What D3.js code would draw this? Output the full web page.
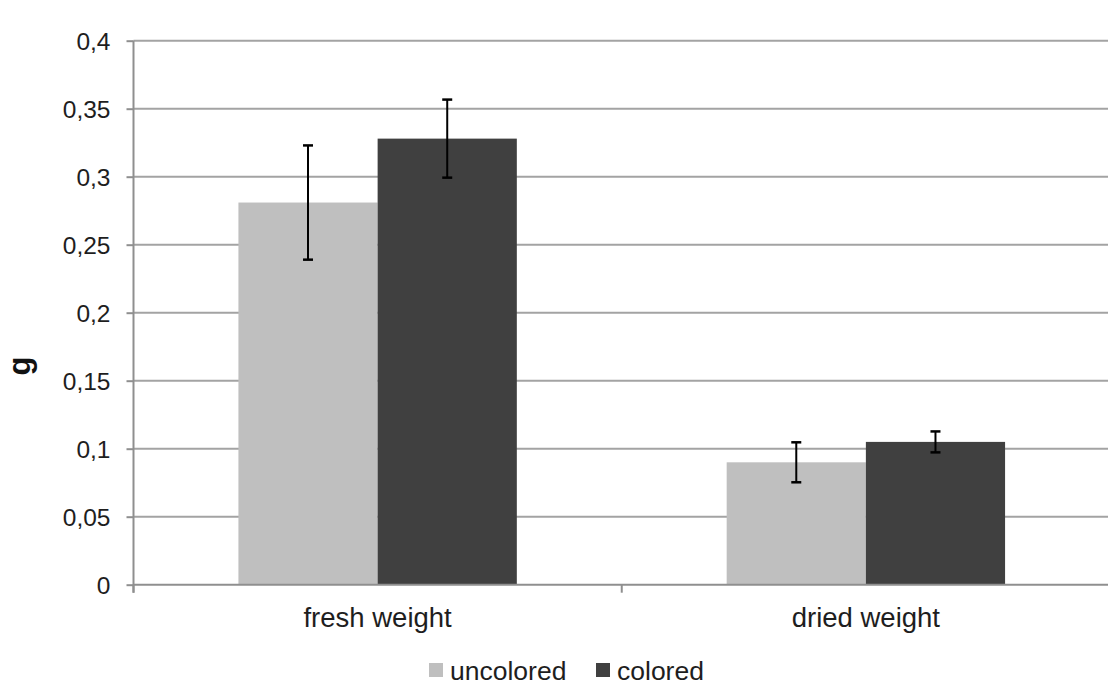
<!DOCTYPE html>
<html>
<head>
<meta charset="utf-8">
<script src="https://cdn.jsdelivr.net/npm/d3@7"></script>
<style>
  html, body { margin: 0; padding: 0; background: #fff; }
  svg { display: block; font-family: "Liberation Sans", Arial, sans-serif; }
</style>
</head>
<body>
<svg id="chart" width="1108" height="687"></svg>
<script>
const categories = ["fresh weight", "dried weight"];
const seriesNames = ["uncolored", "colored"];
const uncoloredValues = [0.281, 0.090];
const coloredValues = [0.328, 0.105];
const uncoloredErrors = [0.042, 0.0147];
const coloredErrors = [0.0287, 0.0077];
const yTicks = [0, 0.05, 0.1, 0.15, 0.2, 0.25, 0.3, 0.35, 0.4];
const yTickLabels = ["0", "0,05", "0,1", "0,15", "0,2", "0,25", "0,3", "0,35", "0,4"];
const colors = ["#bfbfbf", "#404040"];

const svg = d3.select("#chart");
const mLeft = 133.5, mRight = 1110, mTop = 40.7, mBottom = 584.7;

const x = d3.scaleBand().domain(categories).range([mLeft, mRight]).paddingInner(0).paddingOuter(0);
const y = d3.scaleLinear().domain([0, 0.4]).range([mBottom, mTop]);
const groupPad = 0.2149;
const xs = d3.scaleBand().domain(seriesNames)
  .range([x.bandwidth() * groupPad, x.bandwidth() * (1 - groupPad)]);

// gridlines
svg.append("g").selectAll("line").data(yTicks.filter(d => d > 0)).join("line")
  .attr("x1", mLeft).attr("x2", 1108)
  .attr("y1", d => y(d)).attr("y2", d => y(d))
  .attr("stroke", "#a3a3a3").attr("stroke-width", 2);

// bars
const series = [
  { name: seriesNames[0], values: uncoloredValues, errors: uncoloredErrors, color: colors[0] },
  { name: seriesNames[1], values: coloredValues, errors: coloredErrors, color: colors[1] }
];
series.forEach(s => {
  const g = svg.append("g");
  g.selectAll("rect").data(categories).join("rect")
    .attr("x", c => x(c) + xs(s.name))
    .attr("width", xs.bandwidth())
    .attr("y", (c, i) => y(s.values[i]))
    .attr("height", (c, i) => mBottom - y(s.values[i]))
    .attr("fill", s.color);
});

// x axis baseline
const xAxis = d3.axisBottom(x).tickSize(0).tickFormat("");
const xg = svg.append("g").attr("transform", `translate(0,${mBottom})`).call(xAxis);
xg.select(".domain").attr("stroke", "#8f8f8f").attr("stroke-width", 2).attr("d", `M${mLeft},0H1108`);
const bounds = [mLeft, x(categories[1]), mRight];
xg.selectAll(".bt").data(bounds).join("line").attr("class", "bt")
  .attr("x1", d => d).attr("x2", d => d).attr("y1", 0).attr("y2", 8)
  .attr("stroke", "#8f8f8f").attr("stroke-width", 2);
svg.append("g").selectAll("text").data(categories).join("text")
  .attr("x", c => x(c) + x.bandwidth() / 2)
  .attr("y", 627)
  .attr("text-anchor", "middle")
  .attr("font-size", 27.5)
  .attr("fill", "#1e1e1e")
  .text(d => d);

// y axis
const yAxis = d3.axisLeft(y).tickValues(yTicks).tickSize(7).tickPadding(16)
  .tickFormat((d, i) => yTickLabels[i]);
const yg = svg.append("g").attr("transform", `translate(${mLeft},0)`).call(yAxis);
yg.select(".domain").attr("stroke", "#8f8f8f").attr("stroke-width", 2)
  .attr("d", `M0,${mTop}V${mBottom + 8}`);
yg.selectAll(".tick line").attr("stroke", "#8f8f8f").attr("stroke-width", 2);
yg.selectAll(".tick text").attr("font-size", 24.5).attr("fill", "#1e1e1e")
  .attr("font-family", "'Liberation Sans', Arial, sans-serif").attr("dy", "0.34em");

// error bars
series.forEach(s => {
  const g = svg.append("g");
  categories.forEach((c, i) => {
    const cx = x(c) + xs(s.name) + xs.bandwidth() / 2;
    const hi = y(s.values[i] + s.errors[i]);
    const lo = y(s.values[i] - s.errors[i]);
    g.append("line").attr("x1", cx).attr("x2", cx).attr("y1", hi).attr("y2", lo)
      .attr("stroke", "#000").attr("stroke-width", 2);
    [hi, lo].forEach(yy => g.append("line")
      .attr("x1", cx - 5).attr("x2", cx + 5).attr("y1", yy).attr("y2", yy)
      .attr("stroke", "#000").attr("stroke-width", 2.5));
  });
});

// y label
svg.append("text")
  .attr("transform", "translate(29.5,366) rotate(-90)")
  .attr("text-anchor", "middle")
  .attr("font-size", 31).attr("font-weight", "bold").attr("fill", "#111")
  .text("g");

// legend
const legend = svg.append("g");
const legendItems = [{ name: seriesNames[0], color: colors[0], x: 429 }, { name: seriesNames[1], color: colors[1], x: 596 }];
legendItems.forEach(it => {
  legend.append("rect").attr("x", it.x).attr("y", 663).attr("width", 14).attr("height", 14).attr("fill", it.color);
  legend.append("text").attr("x", it.x + 21).attr("y", 680)
    .attr("font-size", 26.5).attr("fill", "#1e1e1e").text(it.name);
});
</script>
</body>
</html>
